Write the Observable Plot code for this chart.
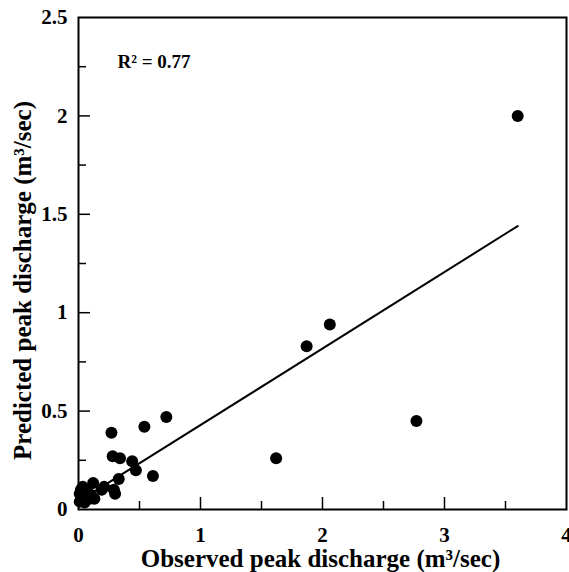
<!DOCTYPE html>
<html>
<head>
<meta charset="utf-8">
<script src="https://cdn.jsdelivr.net/npm/d3@7"></script>
<script src="https://cdn.jsdelivr.net/npm/@observablehq/plot@0.6"></script>
<style>
  html, body { margin: 0; padding: 0; background: #fff; }
</style>
</head>
<body>
<div id="chart"></div>
<script>
// Data
const observed  = [3.6, 2.77, 2.06, 1.87, 1.62, 0.72, 0.54, 0.27, 0.28, 0.34, 0.44, 0.47, 0.61, 0.33, 0.29, 0.30, 0.21, 0.19, 0.12, 0.13, 0.09, 0.10, 0.035, 0.06, 0.01, 0.01, 0.05, 0.02, 0.07];
const predicted = [2.0, 0.45, 0.94, 0.83, 0.26, 0.47, 0.42, 0.39, 0.27, 0.26, 0.245, 0.20, 0.17, 0.155, 0.10, 0.08, 0.115, 0.10, 0.135, 0.055, 0.055, 0.075, 0.115, 0.07, 0.04, 0.08, 0.035, 0.10, 0.09];
const fitX = [0.05, 3.6];
const fitY = [0.06, 1.44];

const xTickLabels = [0, 1, 2, 3, 4];
const yTickLabels = [0, 0.5, 1, 1.5, 2, 2.5];
const xMajorTicks = [1, 2, 3];
const xMinorTicks = [0.5, 1.5, 2.5, 3.5];
const yMajorTicks = [0.5, 1, 1.5, 2];
const yMinorTicks = [0.25, 0.75, 1.25, 1.75, 2.25];

const xTitle = "Observed peak discharge (m³/sec)";
const yTitle = "Predicted peak discharge (m³/sec)";
const r2Label = "R² = 0.77";

const points = observed.map((o, i) => ({observed: o, predicted: predicted[i]}));
const fit = fitX.map((x, i) => ({x, y: fitY[i]}));

const W = 569, H = 572;
const mL = 78, mR = 3, mT = 17, mB = 63;
const fw = W - mL - mR, fh = H - mT - mB;

const chart = Plot.plot({
  width: W,
  height: H,
  marginLeft: mL,
  marginRight: mR,
  marginTop: mT,
  marginBottom: mB,
  style: {fontFamily: "'Liberation Serif', 'Times New Roman', serif", fontWeight: "bold", fontSize: "21px", background: "#fff", color: "#000"},
  x: {domain: [0, 4], axis: null},
  y: {domain: [0, 2.5], axis: null},
  marks: [
    Plot.tickY(yMajorTicks, {y: d => d, insetRight: fw - 12, stroke: "#000", strokeWidth: 1.5}),
    Plot.tickY(yMinorTicks, {y: d => d, insetRight: fw - 8, stroke: "#000", strokeWidth: 1.5}),
    Plot.tickX(xMajorTicks, {x: d => d, insetTop: fh - 12, stroke: "#000", strokeWidth: 1.5}),
    Plot.tickX(xMinorTicks, {x: d => d, insetTop: fh - 8, stroke: "#000", strokeWidth: 1.5}),
    Plot.text(xTickLabels, {x: d => d, text: d => String(d), frameAnchor: "bottom", dy: 26, textAnchor: "middle", lineAnchor: "middle", fontSize: 21, fontWeight: "bold"}),
    Plot.text(yTickLabels, {y: d => d, text: d => String(d), frameAnchor: "left", dx: -11, textAnchor: "end", lineAnchor: "middle", fontSize: 21, fontWeight: "bold"}),
    Plot.line(fit, {x: "x", y: "y", stroke: "#000", strokeWidth: 2}),
    Plot.dot(points, {x: "observed", y: "predicted", r: 6, fill: "#000", stroke: "none"}),
    Plot.frame({stroke: "#000", strokeWidth: 2}),
    Plot.text([r2Label], {frameAnchor: "top-left", dx: 39, dy: 44, textAnchor: "start", lineAnchor: "middle", fontSize: 19, fontWeight: "bold"}),
    Plot.text([xTitle], {frameAnchor: "bottom", dx: -2, dy: 49, textAnchor: "middle", lineAnchor: "middle", fontSize: 25, fontWeight: "bold"}),
    Plot.text([yTitle], {frameAnchor: "left", rotate: -90, dx: -56, dy: 17, textAnchor: "middle", lineAnchor: "middle", fontSize: 25, fontWeight: "bold"})
  ]
});
document.getElementById("chart").appendChild(chart);
</script>
</body>
</html>
